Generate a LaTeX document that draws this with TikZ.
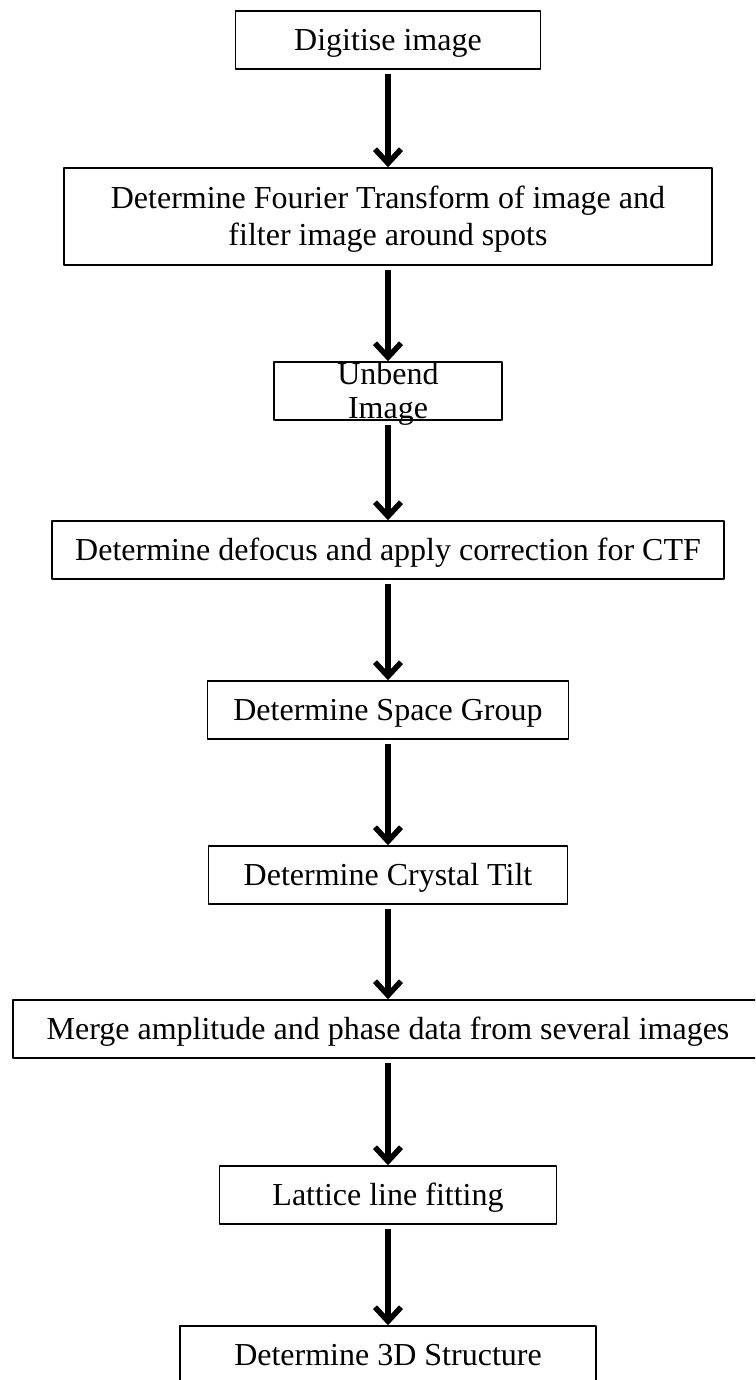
\documentclass[tikz,border=0pt]{standalone}
\usepackage{fontspec}
\setmainfont{Liberation Serif}
\usetikzlibrary{arrows.meta}
\begin{document}
\begin{tikzpicture}[x=1pt,y=-1pt,line join=round,>={Straight Barb[length=14pt,width=26pt]}]
  \tikzset{stepbox/.style={draw,line width=1.5pt,minimum height=58pt,inner sep=0pt,
      font=\fontsize{32}{37}\selectfont,text height=21pt,text depth=0pt,align=center}}
  \useasboundingbox (0,0) rectangle (755,1380);
  \clip (0,0) rectangle (755,1380);
  \node[stepbox,minimum width=305pt] (dig) at (388,40) {Digitise image};
  \node[stepbox,minimum width=648pt,minimum height=97pt,text height=58pt] (fft) at (388,216.5)
      {Determine Fourier Transform of image and\\filter image around spots};
  \node[stepbox,minimum width=228pt,text height=55pt,font=\fontsize{32}{34}\selectfont] (unb) at (388,391) {Unbend\\Image};
  \node[stepbox,minimum width=672pt] (ctf) at (388,550) {Determine defocus and apply correction for CTF};
  \node[stepbox,minimum width=361pt] (sgp) at (388,710) {Determine Space Group};
  \node[stepbox,minimum width=359pt] (tilt) at (388,875) {Determine Crystal Tilt};
  \node[stepbox,minimum width=750pt] (merge) at (388,1029) {Merge amplitude and phase data from several images};
  \node[stepbox,minimum width=337pt] (latt) at (388,1195) {Lattice line fitting};
  \node[stepbox,minimum width=416pt] (struc) at (388,1355) {Determine 3D Structure};
  % arrows between the steps
  \foreach \a/\b in {dig/fft,fft/unb,unb/ctf,ctf/sgp,sgp/tilt,tilt/merge,merge/latt,latt/struc}
    \draw[->,line width=5.5pt,shorten <=4pt] (\a.south) -- (\b.north);
\end{tikzpicture}
\end{document}
